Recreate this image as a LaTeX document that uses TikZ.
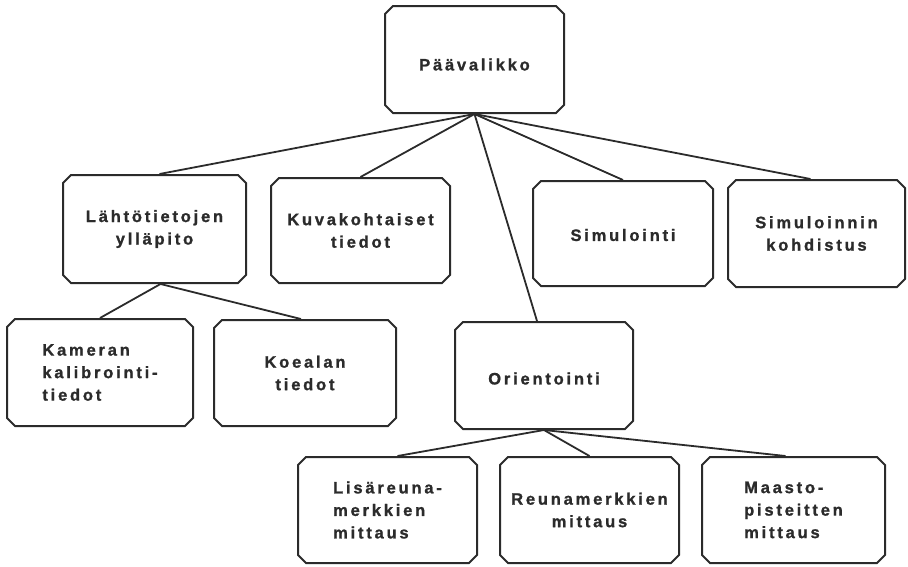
\documentclass[tikz,border=0pt]{standalone}
\usepackage{fontspec}
\newfontfamily\boxfont{Liberation Sans}[BoldFont={Liberation Sans Bold}, BoldFeatures={FakeBold=1.2}, LetterSpace=17]
\usetikzlibrary{shapes.misc}
\definecolor{ink}{HTML}{2B2B2B}
\tikzset{
  menubox/.style={shape=chamfered rectangle, chamfered rectangle xsep=4pt,
    chamfered rectangle ysep=4pt, draw=ink, line width=2pt, inner sep=0pt,
    text=ink, font=\boxfont\bfseries\fontsize{16.5}{22.5}\selectfont, align=center},
  link/.style={draw=ink, line width=1.8pt}
}
\begin{document}
\begin{tikzpicture}[x=1pt,y=-1pt]
\useasboundingbox (0,0) rectangle (908,566);
% top level
\node[menubox, text height=22pt, minimum width=179pt, minimum height=107pt] (P) at (474.5,59.5) {Päävalikko};
% second level
\node[menubox, minimum width=183pt, minimum height=108pt] (L) at (154.5,229) {Lähtötietojen\\ylläpito};
\node[menubox, minimum width=179pt, minimum height=105pt] (K) at (360.5,230.5) {Kuvakohtaiset\\tiedot};
\node[menubox, text height=15pt, minimum width=180pt, minimum height=105pt] (S) at (623,233.5) {Simulointi};
\node[menubox, minimum width=177pt, minimum height=107pt] (SK) at (816.5,233.5) {Simuloinnin\\kohdistus};
% third level
\node[menubox, align=left, minimum width=186pt, minimum height=107pt] (Ka) at (100,372.5) {Kameran\\kalibrointi-\\tiedot};
\node[menubox, minimum width=182pt, minimum height=106pt] (Ko) at (305,373) {Koealan\\tiedot};
\node[menubox, text height=18pt, minimum width=178pt, minimum height=107pt] (O) at (544,375.5) {Orientointi};
% fourth level
\node[menubox, align=left, minimum width=179pt, minimum height=106pt] (Li) at (387.5,510) {Lisäreuna-\\merkkien\\mittaus};
\node[menubox, minimum width=179pt, minimum height=106pt] (R) at (589.5,510) {Reunamerkkien\\mittaus};
\node[menubox, align=left, minimum width=183pt, minimum height=106pt] (M) at (793.5,510) {Maasto-\\pisteitten\\mittaus};
% connectors
\draw[link] (P.south) -- ([xshift=5pt]L.north);
\draw[link] (P.south) -- (K.north);
\draw[link] (P.south) -- ([xshift=-7pt]O.north);
\draw[link] (P.south) -- (S.north);
\draw[link] (P.south) -- ([xshift=-6pt]SK.north);
\draw[link] ([xshift=6pt]L.south) -- (Ka.north);
\draw[link] ([xshift=6pt]L.south) -- ([xshift=-4pt]Ko.north);
\draw[link] (O.south) -- ([xshift=10pt]Li.north);
\draw[link] (O.south) -- (R.north);
\draw[link] (O.south) -- ([xshift=-8pt]M.north);
\end{tikzpicture}
\end{document}
